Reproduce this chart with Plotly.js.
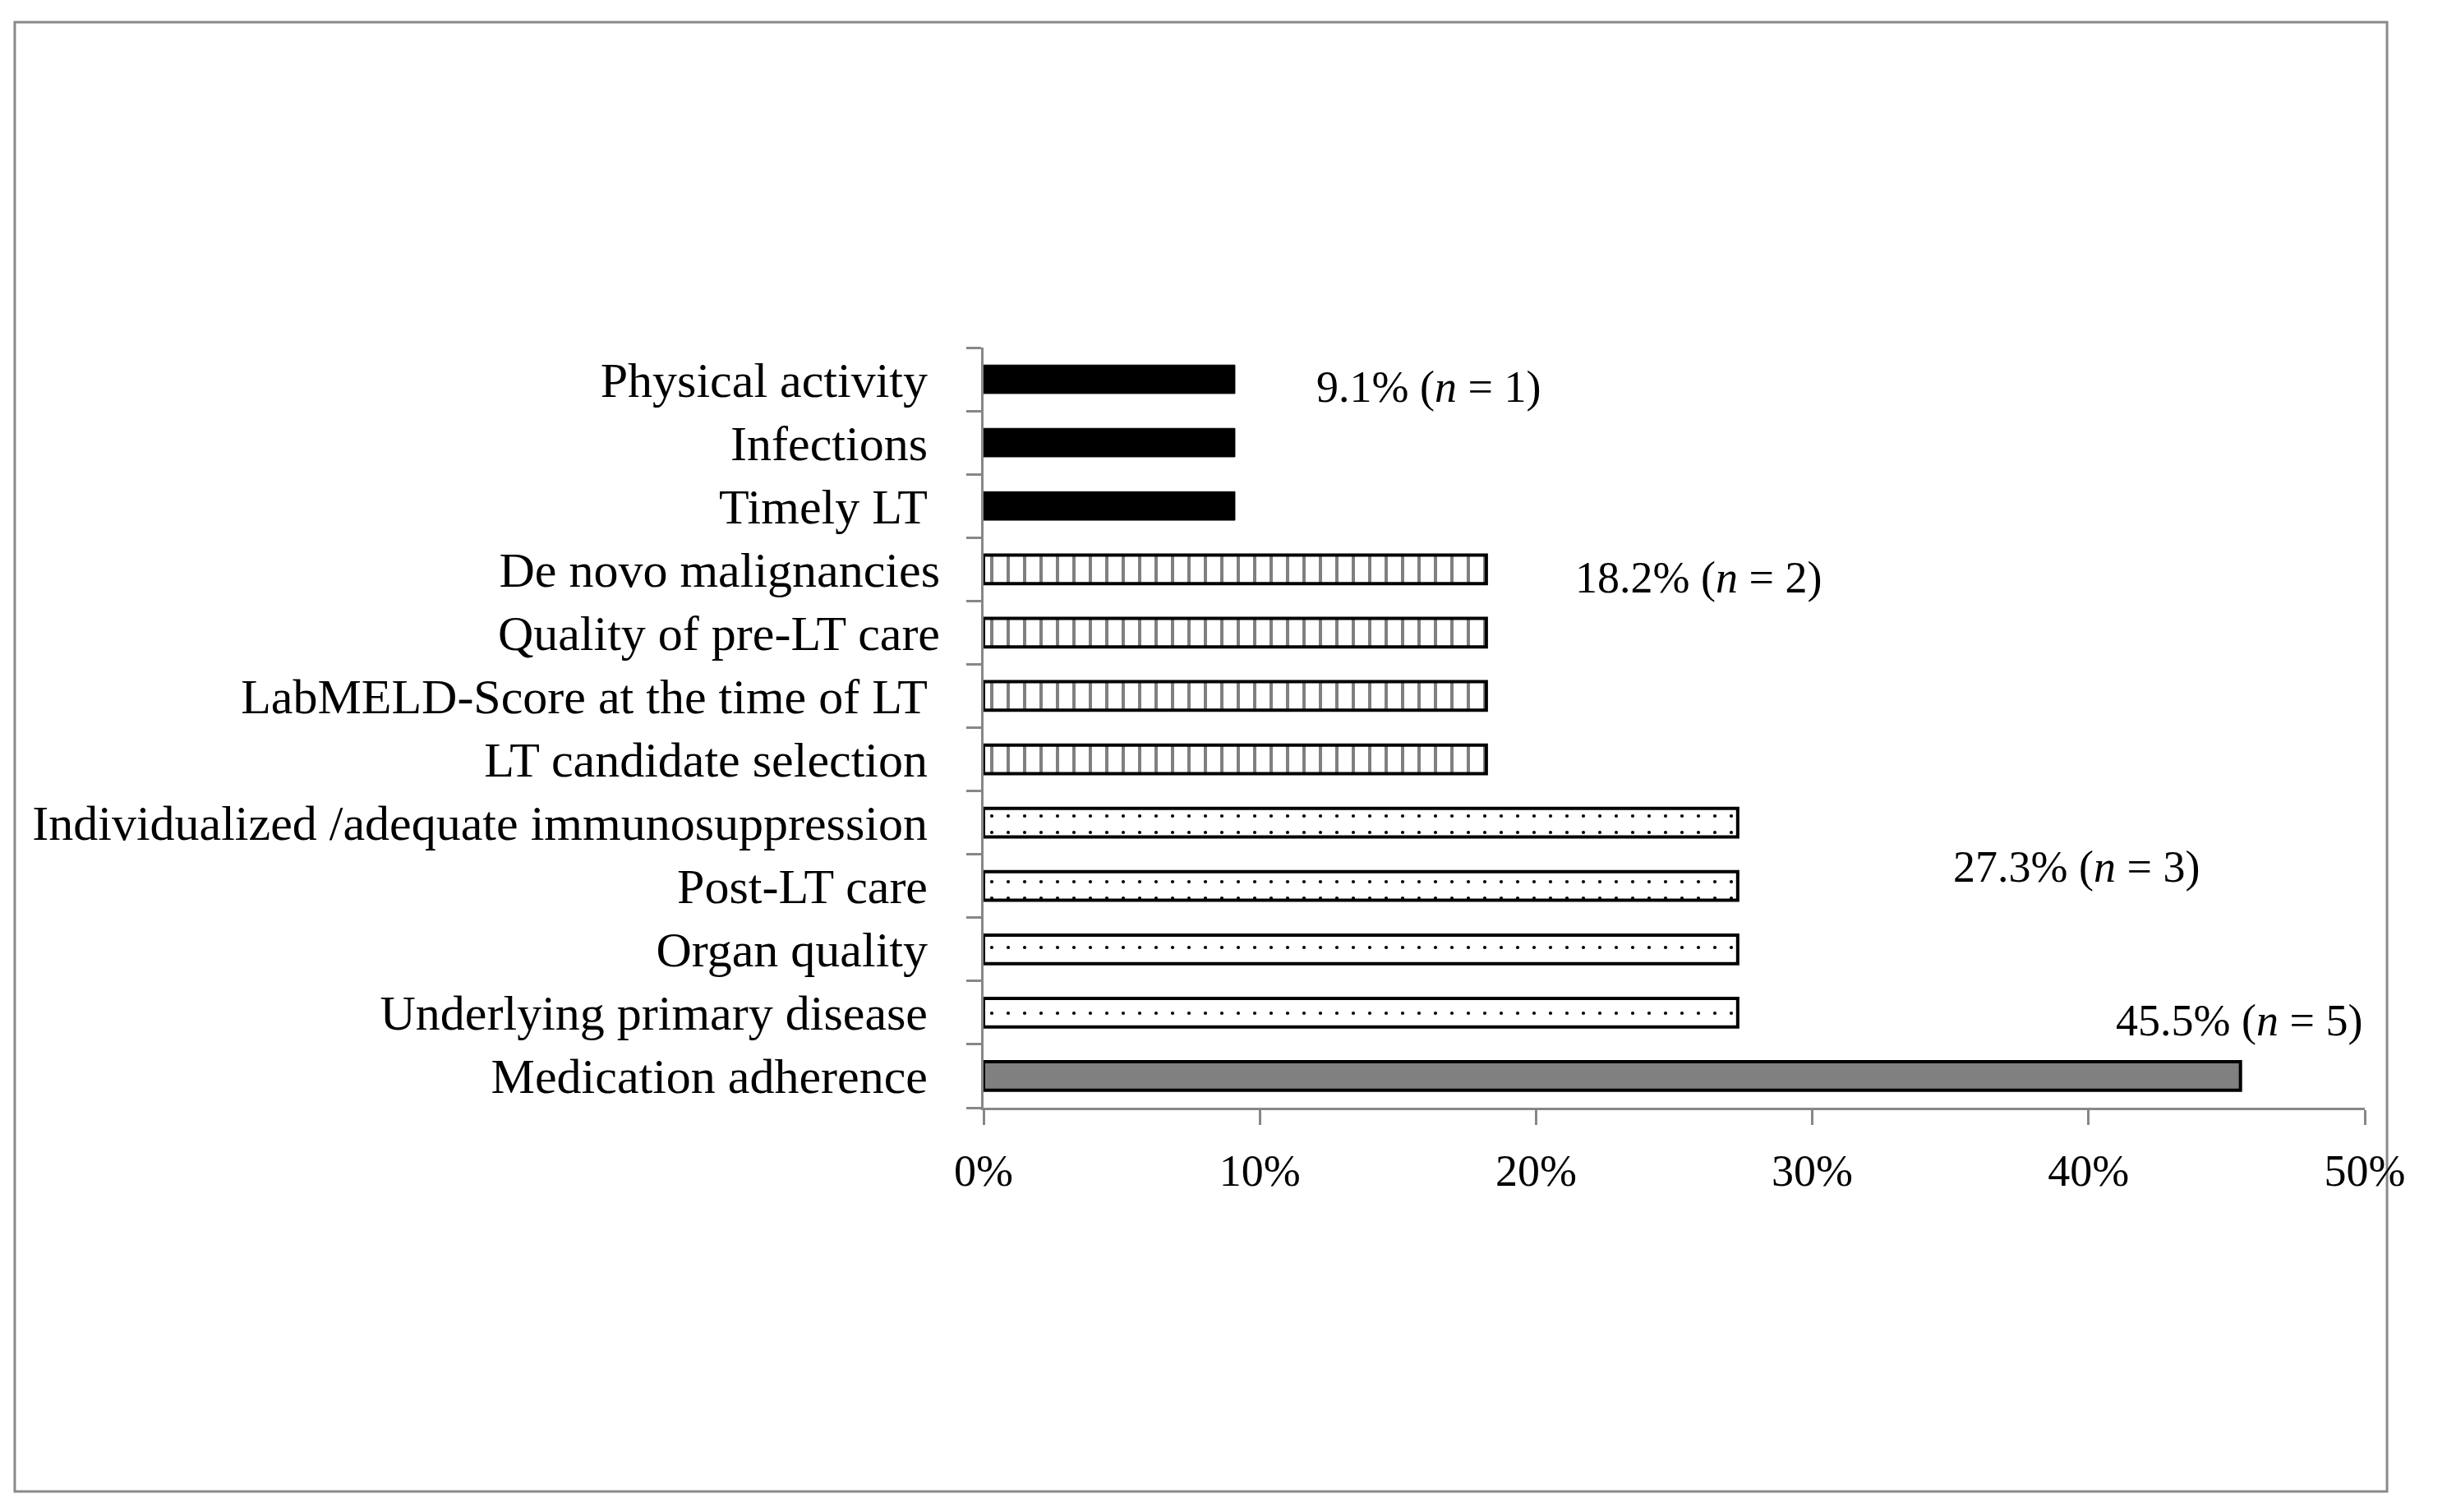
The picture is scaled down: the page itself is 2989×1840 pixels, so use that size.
<!DOCTYPE html>
<html>
<head>
<meta charset="utf-8">
<script src="https://cdn.plot.ly/plotly-3.0.1.min.js"></script>
<style>
  html, body { margin: 0; padding: 0; background: #ffffff; }
  #chart { width: 2989px; height: 1840px; }
</style>
</head>
<body>
<div id="chart"></div>
<script>
// Categories listed bottom to top (as on the axis)
const categories = [
  "Medication adherence\u00a0",
  "Underlying primary disease\u00a0",
  "Organ quality\u00a0",
  "Post-LT care\u00a0",
  "Individualized /adequate immunosuppression\u00a0",
  "LT candidate selection\u00a0",
  "LabMELD-Score at the time of LT\u00a0",
  "Quality of pre-LT care",
  "De novo malignancies",
  "Timely LT\u00a0",
  "Infections\u00a0",
  "Physical activity\u00a0"
];
const values = [45.5, 27.3, 27.3, 27.3, 27.3, 18.2, 18.2, 18.2, 18.2, 9.1, 9.1, 9.1];
const groupLevels = [9.1, 18.2, 27.3, 45.5];
const groupLabels = [
  "9.1% (<i>n</i> = 1)",
  "18.2% (<i>n</i> = 2)",
  "27.3% (<i>n</i> = 3)",
  "45.5% (<i>n</i> = 5)"
];
const xTickVals = [0, 10, 20, 30, 40, 50];
const xTickLabels = ["0%", "10%", "20%", "30%", "40%", "50%"];

const FONT = "'Liberation Serif', 'Times New Roman', serif";
const AXIS_GRAY = "#878787";

const styles = {
  9.1:  { color: "#000000", line: 1, pattern: { shape: "" } },
  18.2: { color: "#ffffff", line: 4, pattern: { shape: "|", fgcolor: "#808080", bgcolor: "#ffffff", size: 20, solidity: 0.2 } },
  27.3: { color: "#ffffff", line: 4, pattern: { shape: ".", fgcolor: "#000000", bgcolor: "#ffffff", size: 20, solidity: 0.035 } },
  45.5: { color: "#808080", line: 4, pattern: { shape: "" } }
};

const traces = groupLevels.map(function (lvl) {
  const ys = [], xs = [];
  categories.forEach(function (c, i) {
    if (values[i] === lvl) { ys.push(c); xs.push(values[i]); }
  });
  const st = styles[lvl];
  return {
    type: "bar",
    orientation: "h",
    y: ys,
    x: xs,
    width: 0.45,
    marker: {
      color: st.color,
      line: { color: "#000000", width: st.line },
      pattern: st.pattern
    },
    hoverinfo: "skip",
    showlegend: false
  };
});

// annotation anchor positions (data coordinates)
const annPos = [
  { x: 12.0, y: 10.88 },
  { x: 21.36, y: 7.87 },
  { x: 35.04, y: 3.30 },
  { x: 40.93, y: 0.875 }
];
const annotations = groupLabels.map(function (t, k) {
  return {
    text: t,
    x: annPos[k].x, y: annPos[k].y,
    xref: "x", yref: "y",
    xanchor: "left", yanchor: "middle",
    showarrow: false,
    font: { family: FONT, size: 54, color: "#000000" }
  };
});

const layout = {
  width: 2989,
  height: 1840,
  margin: { l: 1197, r: 111, t: 423, b: 492, pad: 0 },
  paper_bgcolor: "#ffffff",
  plot_bgcolor: "#ffffff",
  barmode: "overlay",
  font: { family: FONT, size: 54, color: "#000000" },
  xaxis: {
    range: [0, 50],
    tickmode: "array",
    tickvals: xTickVals,
    ticktext: xTickLabels,
    ticks: "outside",
    ticklen: 18,
    tickwidth: 3,
    tickcolor: AXIS_GRAY,
    showline: true,
    linecolor: AXIS_GRAY,
    linewidth: 3,
    showgrid: false,
    zeroline: false,
    ticklabelstandoff: 9,
    tickfont: { family: FONT, size: 54, color: "#000000" }
  },
  yaxis: {
    type: "category",
    categoryorder: "array",
    categoryarray: categories,
    range: [-0.5, 11.5],
    tickson: "boundaries",
    ticks: "outside",
    ticklen: 18,
    tickwidth: 3,
    tickcolor: AXIS_GRAY,
    showline: true,
    linecolor: AXIS_GRAY,
    linewidth: 3,
    showgrid: false,
    zeroline: false,
    ticklabelstandoff: 38,
    tickfont: { family: FONT, size: 60, color: "#000000" }
  },
  annotations: annotations,
  shapes: [{
    type: "rect",
    xref: "paper", yref: "paper",
    x0: -0.7014, x1: 1.0161,
    y0: -0.5049, y1: 1.428,
    line: { color: "#8a8a8a", width: 3 },
    fillcolor: "rgba(0,0,0,0)",
    layer: "below"
  }]
};

Plotly.newPlot("chart", traces, layout, { staticPlot: true, displayModeBar: false });
</script>
</body>
</html>
